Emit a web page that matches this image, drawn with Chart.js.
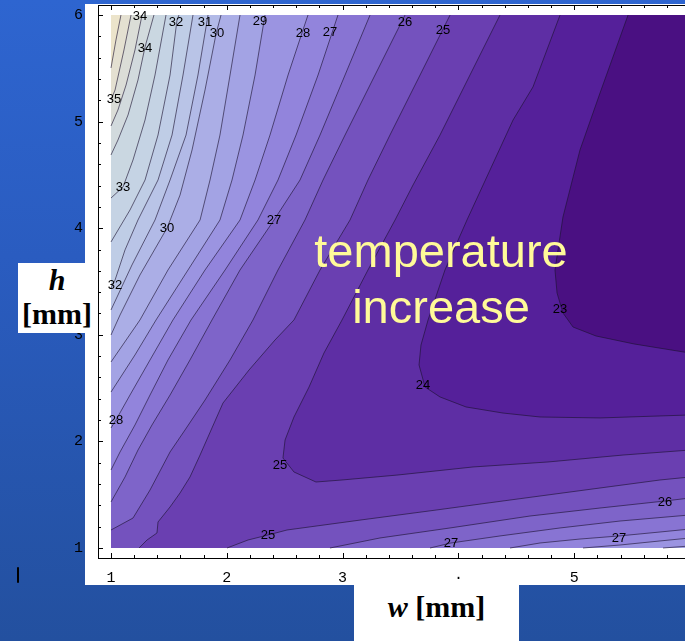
<!DOCTYPE html>
<html>
<head>
<meta charset="utf-8">
<script src="https://cdn.jsdelivr.net/npm/chart.js@4.4.1/dist/chart.umd.min.js"></script>
<style>
  html, body { margin: 0; padding: 0; width: 685px; height: 641px; overflow: hidden; }
  body { position: relative; background: linear-gradient(180deg, #2e65d0 0%, #2a5cc0 40%, #23509f 100%); }
  #panel { position: absolute; left: 85px; top: 4px; width: 600px; height: 581px; background: #fff; }
  #wrap { position: absolute; left: 60px; top: 4px; width: 645px; height: 581px; }
  #note { position: absolute; left: 291px; top: 223px; width: 300px; text-align: center;
          font: 47px/56px "Liberation Sans", Arial, sans-serif; color: #fffa99; }
  #hbox { position: absolute; left: 18px; top: 263px; width: 78px; height: 70px; background: #fff;
          text-align: center; font: bold 30px/34px "Liberation Serif", "Times New Roman", serif; color: #000; }
  #wbox { position: absolute; left: 354px; top: 585px; width: 165px; height: 56px; background: #fff;
          text-align: center; font: bold 30px/44px "Liberation Serif", "Times New Roman", serif; color: #000; }
  #mark { position: absolute; left: 17px; top: 567px; width: 2px; height: 16px; background: #000; border-radius: 1px; }
</style>
</head>
<body>
<div id="panel"></div>
<div id="wrap"><canvas id="c" width="645" height="581" style="width:645px;height:581px"></canvas></div>
<div id="note">temperature<br>increase</div>
<div id="hbox"><i>h</i><br>[mm]</div>
<div id="wbox"><i>w</i> [mm]</div>
<div id="mark"></div>
<script>
// contour levels (temperature) from the coldest pocket outward
const levels = [23.2, 23.9, 24.6, 25.3, 26.0, 26.7, 27.4, 28.1, 28.8, 29.5,
                30.2, 30.9, 31.6, 32.3, 33.0, 33.7, 34.4, 35.1, 35.8];

// piece of each contour that enters at the top edge, as [w, h] in mm
const upperPaths = [
  [[5.465,6.000],[5.223,5.268],[5.050,4.734],[4.903,4.105],[4.834,3.608],[4.852,3.392],[4.903,3.205],[4.990,3.073],[5.188,2.989],[5.517,2.914],[6.000,2.829]],
  [[4.878,6.000],[4.644,5.325],[4.472,5.015],[4.273,4.546],[4.074,4.077],[3.884,3.608],[3.738,3.139],[3.677,2.904],[3.660,2.717],[3.712,2.510],[3.841,2.417],[4.066,2.323],[4.385,2.266],[4.705,2.229],[5.223,2.220],[6.000,2.248]],
  [[4.359,6.000],[4.100,5.437],[3.841,4.874],[3.608,4.405],[3.453,4.077],[3.219,3.608],[2.995,3.139],[2.839,2.829],[2.710,2.510],[2.580,2.229],[2.503,2.013],[2.485,1.844],[2.580,1.713],[2.770,1.619],[2.995,1.638],[3.479,1.685],[4.126,1.760],[4.774,1.807],[5.422,1.872],[6.000,1.919]],
  [[3.928,6.000],[3.669,5.437],[3.409,4.874],[3.219,4.452],[3.064,4.077],[2.805,3.608],[2.580,3.139],[2.416,2.951],[2.192,2.670],[1.967,2.360],[1.872,2.126],[1.769,1.872],[1.682,1.666],[1.596,1.516],[1.510,1.385],[1.406,1.244],[1.397,1.141],[1.311,1.075],[1.242,1.000]],
  [[3.539,6.000],[3.280,5.437],[3.021,4.874],[2.831,4.452],[2.675,4.077],[2.442,3.608],[2.226,3.139],[2.028,2.764],[1.812,2.388],[1.639,2.107],[1.510,1.901],[1.337,1.544],[1.190,1.281],[1.000,1.169]],
  [[3.237,6.000],[3.021,5.437],[2.805,4.874],[2.632,4.452],[2.408,4.077],[2.114,3.608],[1.872,3.139],[1.682,2.764],[1.510,2.435],[1.354,2.154],[1.233,1.919],[1.121,1.666],[1.000,1.432]],
  [[2.960,6.000],[2.788,5.437],[2.598,4.874],[2.442,4.452],[2.269,4.077],[1.985,3.608],[1.691,3.139],[1.492,2.764],[1.337,2.435],[1.207,2.154],[1.078,1.901],[1.000,1.732]],
  [[2.701,6.000],[2.649,5.831],[2.529,5.437],[2.373,4.874],[2.244,4.452],[2.114,4.077],[1.812,3.608],[1.535,3.139],[1.337,2.764],[1.164,2.435],[1.043,2.201],[1.000,2.126]],
  [[2.330,6.000],[2.244,5.437],[2.140,4.874],[2.045,4.452],[1.941,4.077],[1.665,3.608],[1.389,3.139],[1.207,2.811],[1.000,2.463]],
  [[2.114,6.000],[2.028,5.437],[1.941,4.874],[1.855,4.452],[1.769,4.077],[1.492,3.608],[1.250,3.139],[1.000,2.745]],
  [[1.950,6.000],[1.907,5.822],[1.812,5.297],[1.700,4.734],[1.596,4.311],[1.484,4.002],[1.250,3.561],[1.078,3.186],[1.000,2.998]],
  [[1.838,6.000],[1.751,5.437],[1.648,4.874],[1.510,4.452],[1.380,4.077],[1.181,3.655],[1.000,3.233]],
  [[1.708,6.000],[1.622,5.437],[1.527,4.874],[1.406,4.452],[1.233,4.077],[1.121,3.796],[1.035,3.514],[1.000,3.439]],
  [[1.587,6.000],[1.570,5.953],[1.510,5.437],[1.406,4.874],[1.294,4.452],[1.164,4.171],[1.000,3.871]],
  [[1.475,6.000],[1.380,5.437],[1.294,5.015],[1.190,4.640],[1.104,4.387],[1.000,4.283]],
  [[1.371,6.000],[1.294,5.700],[1.233,5.390],[1.147,5.062],[1.060,4.827],[1.000,4.687]],
  [[1.268,6.000],[1.207,5.672],[1.130,5.343],[1.060,5.109],[1.000,4.959]],
  [[1.173,6.000],[1.112,5.672],[1.035,5.297],[1.000,5.203]],
  [[1.086,6.000],[1.043,5.766],[1.000,5.503]]
];

// second piece of a contour, running from the bottom edge to the right edge
const lowerPaths = [
  [], [], [],
  [[2.002,1.000],[2.183,1.075],[2.356,1.122],[2.520,1.169],[3.159,1.263],[3.807,1.356],[4.446,1.450],[5.093,1.544],[5.741,1.638],[6.000,1.666]],
  [[2.891,1.000],[3.323,1.094],[3.928,1.188],[4.618,1.300],[5.223,1.375],[5.784,1.441],[6.000,1.469]],
  [[3.755,1.000],[3.936,1.047],[4.359,1.113],[4.878,1.188],[5.396,1.253],[6.000,1.310]],
  [[4.446,1.000],[4.705,1.047],[5.050,1.084],[5.387,1.113],[5.741,1.150],[6.000,1.178]],
  [[5.076,1.000],[5.396,1.028],[5.741,1.066],[6.000,1.094]],
  [[5.767,1.000],[6.000,1.019]],
  [], [], [], [], [], [], [], [], [], []
];

// contour labels: which level, and where it sits
const labelLevel = [17, 16, 15, 14, 13, 12, 11, 10, 10, 8, 7, 7, 6, 5, 4, 3, 2, 3, 1, 0, 4, 5, 6];
const labelW = [1.026, 1.250, 1.294, 1.104, 1.561, 1.035, 1.812, 1.915, 1.484, 2.287, 2.658, 1.043,
                2.891, 2.408, 3.539, 3.867, 2.459, 2.356, 3.694, 4.878, 5.784, 3.936, 5.387];
const labelH = [5.212, 5.991, 5.691, 4.387, 5.934, 3.467, 5.934, 5.831, 4.002, 5.944, 5.831, 2.201,
                5.841, 4.077, 5.934, 5.859, 1.779, 1.122, 2.529, 3.242, 1.432, 1.047, 1.094];

// axis ticks
const tickValues = [1, 2, 3, 4, 5, 6];
const xTickText = ['1', '2', '3', '\u00b7', '5', '6'];
const yTickText = ['1', '2', '3', '4', '5', '6'];

// shading for the band below each level (last entry: above the top level)
const bandColors = ['#4a1082','#55209a','#5e2ea4','#6a3fb1','#7452be','#7e64c9','#8874d3','#9284dc',
                    '#9b94e1','#a3a3e4','#abaee6','#b2bae7','#b9c4e7','#bfcde6','#c5d3e4','#cad7e1',
                    '#d2dadd','#dbddd7','#e4e0d1','#ece4cb'];

const W_MIN = 1, W_MAX = 6, H_MIN = 1, H_MAX = 6;
const PX_PER_W = 115.8, PX_PER_H = 106.6;

// contour lines as datasets
const datasets = [];
levels.forEach((lv, k) => {
  [upperPaths[k], lowerPaths[k]].forEach(path => {
    if (!path.length) return;
    datasets.push({
      label: 'T = ' + lv,
      data: path.map(([w, h]) => ({ x: w, y: h })),
      showLine: true,
      borderColor: 'rgba(28,18,48,0.62)',
      borderWidth: 1,
      pointRadius: 0,
      fill: false,
      tension: 0
    });
  });
});

// filled bands: paint each colder pocket on top of the warmer ones
const bandFill = {
  id: 'bandFill',
  beforeDatasetsDraw(chart) {
    const { ctx, scales: { x, y } } = chart;
    const px = w => x.getPixelForValue(w), py = h => y.getPixelForValue(h);
    const L = px(W_MIN), R = px(W_MAX), T = py(H_MAX), B = py(H_MIN);
    ctx.save();
    ctx.beginPath();
    ctx.rect(L, T, R - L, B - T);
    ctx.clip();
    ctx.fillStyle = bandColors[levels.length];
    ctx.fillRect(L, T, R - L, B - T);
    for (let k = levels.length - 1; k >= 0; k--) {
      const up = upperPaths[k], lo = lowerPaths[k];
      const pts = up.slice();
      const end = up[up.length - 1];
      if (end[0] < W_MAX) {
        if (end[0] <= W_MIN) pts.push([W_MIN, H_MIN]);
        if (lo.length) pts.push(...lo); else pts.push([W_MAX, H_MIN]);
      }
      pts.push([W_MAX, H_MAX]);
      ctx.beginPath();
      pts.forEach(([w, h], i) => i ? ctx.lineTo(px(w), py(h)) : ctx.moveTo(px(w), py(h)));
      ctx.closePath();
      ctx.fillStyle = bandColors[k];
      ctx.fill();
    }
    ctx.restore();
  }
};

// level numbers written on the contours
const contourLabels = {
  id: 'contourLabels',
  afterDatasetsDraw(chart) {
    const { ctx, scales: { x, y } } = chart;
    ctx.save();
    ctx.font = '13px "Liberation Sans", Arial, sans-serif';
    ctx.fillStyle = '#000';
    ctx.textAlign = 'center';
    ctx.textBaseline = 'middle';
    labelLevel.forEach((k, i) => {
      ctx.fillText(String(Math.round(levels[k])), x.getPixelForValue(labelW[i]), y.getPixelForValue(labelH[i]));
    });
    ctx.restore();
  }
};

// inward tick marks on the frame, major every 1 mm, minor every 0.2 mm
const frameTicks = {
  id: 'frameTicks',
  afterDraw(chart) {
    const { ctx, chartArea: a, scales: { x, y } } = chart;
    ctx.save();
    ctx.strokeStyle = '#000';
    ctx.lineWidth = 1;
    ctx.beginPath();
    for (let i = 5; i <= 30; i++) {
      const v = i / 5, len = i % 5 === 0 ? 5 : 3;
      const xp = Math.round(x.getPixelForValue(v)) + 0.5;
      ctx.moveTo(xp, a.bottom); ctx.lineTo(xp, a.bottom - len);
      ctx.moveTo(xp, a.top); ctx.lineTo(xp, a.top + len);
      const yp = Math.round(y.getPixelForValue(v)) + 0.5;
      ctx.moveTo(a.left, yp); ctx.lineTo(a.left + len, yp);
    }
    ctx.stroke();
    ctx.restore();
  }
};

const noPad = s => { s.paddingLeft = 0; s.paddingRight = 0; s.paddingTop = 0; s.paddingBottom = 0; };
const tickFont = { family: '"Liberation Mono", "Courier New", monospace', size: 15 };
const X_MIN = W_MIN - 13 / PX_PER_W, X_MAX = X_MIN + 605 / PX_PER_W;

new Chart(document.getElementById('c'), {
  type: 'scatter',
  data: { datasets },
  options: {
    responsive: false,
    devicePixelRatio: 1,
    animation: false,
    events: [],
    layout: { autoPadding: false, padding: { left: 0, top: 0, right: 2, bottom: 0 } },
    plugins: { legend: { display: false }, tooltip: { enabled: false } },
    scales: {
      x: {
        type: 'linear', position: 'bottom',
        min: X_MIN, max: X_MAX,
        grid: { display: false },
        border: { display: true, color: '#000', width: 1 },
        ticks: { padding: 3, color: '#000', font: tickFont, autoSkip: false, maxRotation: 0,
                 callback: v => xTickText[tickValues.indexOf(v)] ?? '' },
        afterBuildTicks: s => { s.ticks = tickValues.map(v => ({ value: v })); },
        afterFit: s => { s.height = 27; noPad(s); }
      },
      xTop: {
        type: 'linear', position: 'top', axis: 'x',
        min: X_MIN, max: X_MAX,
        grid: { display: false },
        border: { display: true, color: '#000', width: 1 },
        ticks: { display: false },
        afterFit: s => { s.height = 1; noPad(s); }
      },
      y: {
        type: 'linear', position: 'left',
        min: H_MIN - 10 / PX_PER_H, max: H_MAX + 10 / PX_PER_H,
        grid: { display: false },
        border: { display: true, color: '#000', width: 1 },
        ticks: { padding: 7, color: '#000', font: tickFont, autoSkip: false,
                 callback: v => yTickText[tickValues.indexOf(v)] ?? '' },
        afterBuildTicks: s => { s.ticks = tickValues.map(v => ({ value: v })); },
        afterFit: s => { s.width = 38; noPad(s); }
      }
    }
  },
  plugins: [bandFill, contourLabels, frameTicks]
});
</script>
</body>
</html>
